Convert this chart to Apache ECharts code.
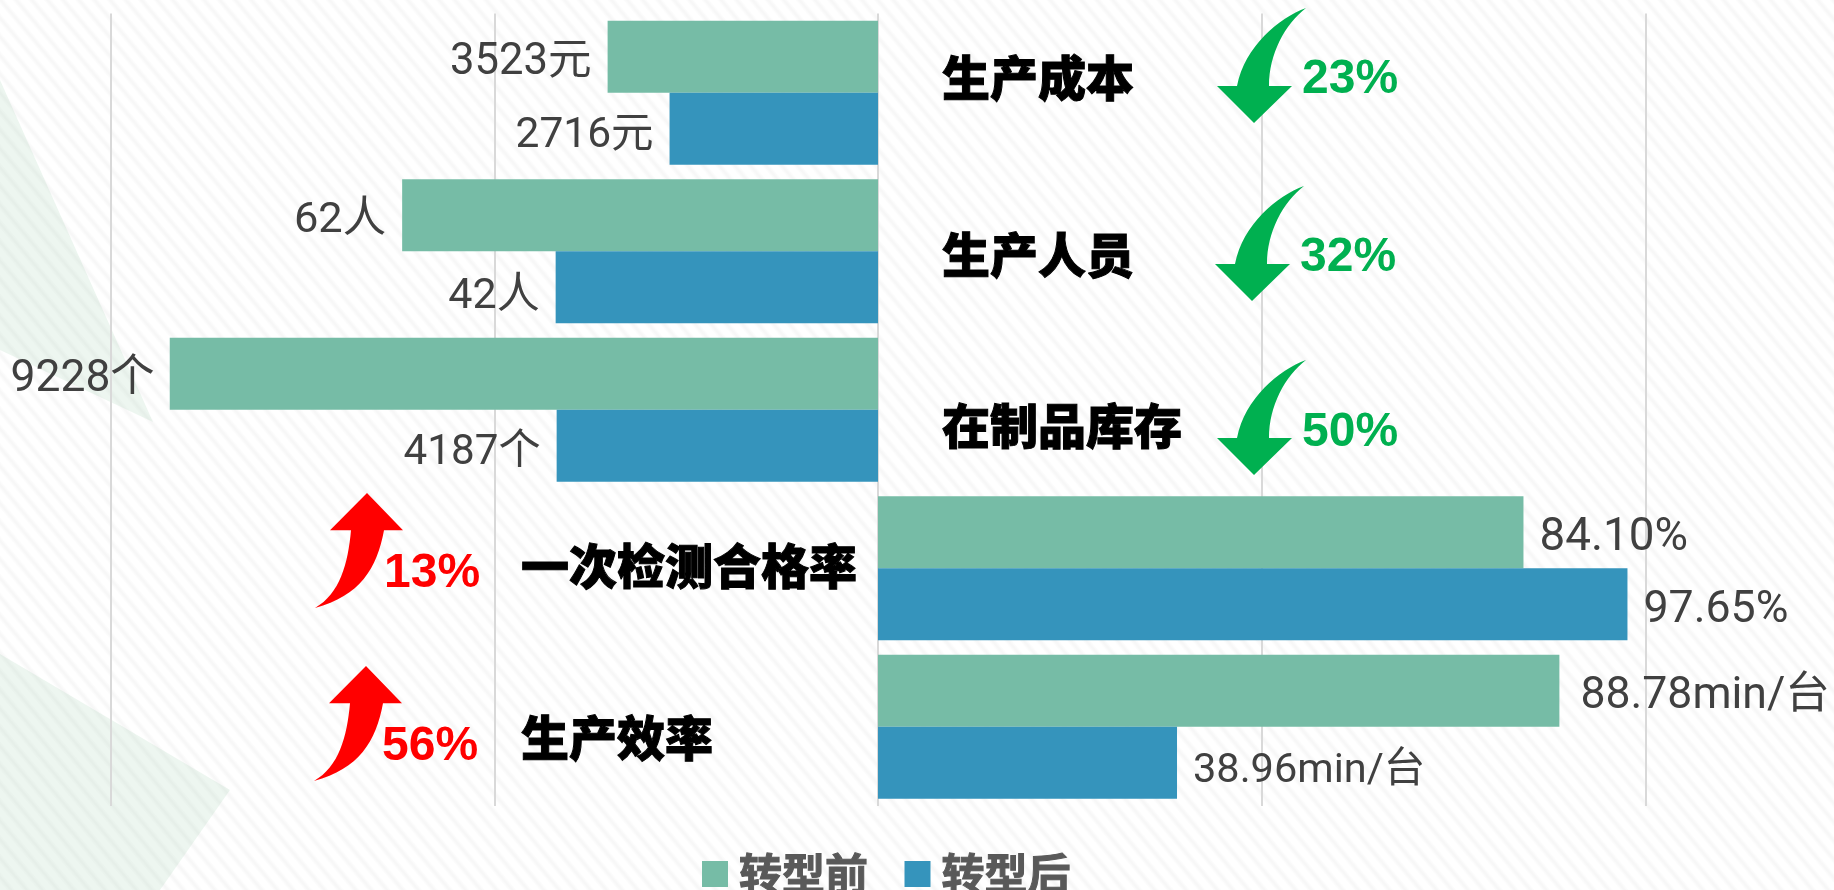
<!DOCTYPE html>
<html>

<head>
    <meta charset="utf-8">
    <title>ECharts</title>
    <script src="https://cdn.jsdelivr.net/npm/echarts@6/dist/echarts.min.js"></script>
    <style>
        html, body { margin: 0; padding: 0; height: 100%; overflow: hidden; }
        body {
            background: repeating-linear-gradient(50deg, #ffffff 0px, #ffffff 5px, #f7f7f7 8px, #f7f7f7 9px, #ffffff 12px);
        }
        #main { width: 1834px; height: 890px; }
    </style>
</head>

<body>
    <div id="main"></div>
</body>
<script type="text/javascript">
    var categories = ['生产成本', '生产人员', '在制品库存', '一次检测合格率', '生产效率'];
    var seriesNames = ['转型前', '转型后'];
    // 条长按标签数字折算成同一刻度
    var beforeValues = [-35.23, -62, -92.28, 84.10, 88.78];
    var afterValues = [-27.16, -42, -41.87, 97.65, 38.96];
    var beforeLabels = ['3523元', '62人', '9228个', '84.10%', '88.78min/台'];
    var afterLabels = ['2716元', '42人', '4187个', '97.65%', '38.96min/台'];
    var changes = ['23%', '32%', '50%', '13%', '56%'];

    // 原图每个标签字号略有不同
    var beforeSizes = [43.6, 43.4, 44.4, 45.8, 44.6];
    var afterSizes = [42.5, 43, 42.2, 44.7, 41.5];
    // 标签相对默认位置的偏移
    var beforeShiftX = [0, 0, 1, 0, 5];
    var afterShiftY = [8, 10, 8, 7, 9];

    var labelFont = 'Roboto, "Noto Sans CJK SC", sans-serif';
    var titleFont = '"Noto Sans CJK SC", sans-serif';
    var pctFont = '"Liberation Sans", Arial, sans-serif';

    var downArrow = 'M89 0C62 10 28 38 20 78L0 78L37 115L75 78L52 78C52 46 68 16 89 0Z';
    var upArrow = 'M52 0L88 37L69 37C62 75 45 102 0 114C25 100 33 70 36 37L15 37Z';

    // 叠加在图上的说明文字和箭头: 文字x,y 箭头x,y
    var notes = [
        { tx: 942, ty: 78, px: 1302, py: 80, ax: 1217, ay: 8 },
        { tx: 942, ty: 255, px: 1300, py: 258, ax: 1215, ay: 186 },
        { tx: 942, ty: 426, px: 1302, py: 433, ax: 1217, ay: 360 },
        { tx: 521, ty: 566, px: 384, py: 574, ax: 315, ay: 493 },
        { tx: 521, ty: 738, px: 382, py: 747, ax: 314, ay: 666 }
    ];

    var graphic = [
        { type: 'polygon', z: -1, silent: true, shape: { points: [[0, 80], [153, 422], [0, 350]] }, style: { fill: 'rgba(172,216,188,0.22)' } },
        { type: 'polygon', z: -1, silent: true, shape: { points: [[0, 654], [230, 790], [160, 890], [0, 890]] }, style: { fill: 'rgba(172,216,188,0.22)' } }
    ];
    notes.forEach(function (n, i) {
        graphic.push({
            type: 'text', z: 10, x: n.tx, y: n.ty,
            style: { text: categories[i], fill: '#000', stroke: '#000', lineWidth: 1, font: '900 48px ' + titleFont, textVerticalAlign: 'middle' }
        });
        graphic.push({
            type: 'text', z: 10, x: n.px, y: n.py,
            style: { text: changes[i], fill: i < 3 ? '#00B050' : '#FF0000', font: 'bold 48px ' + pctFont, textVerticalAlign: 'middle' }
        });
    });

    function barLabel(names) {
        return {
            show: true,
            position: 'outside',
            distance: 16,
            color: '#404040',
            fontFamily: labelFont,
            fontSize: 44,
            formatter: function (p) { return names[p.dataIndex]; }
        };
    }

    var myChart = echarts.init(document.getElementById('main'));
    myChart.setOption({
        animation: false,
        backgroundColor: 'transparent',
        grid: { left: 110.5, right: 188.5, top: 13.5, bottom: 84, containLabel: false },
        legend: {
            left: 697,
            top: 847,
            icon: 'rect',
            itemWidth: 26,
            itemHeight: 26,
            itemGap: 36,
            textStyle: {
                fontFamily: titleFont, fontWeight: 'bold', fontSize: 43, color: '#595959',
                textBorderColor: '#595959', textBorderWidth: 1, padding: [0, 0, 0, 6]
            },
            data: seriesNames
        },
        xAxis: {
            type: 'value',
            min: -100,
            max: 100,
            interval: 50,
            axisLabel: { show: false },
            axisTick: { show: false },
            axisLine: { show: false },
            splitLine: { lineStyle: { color: '#D9D9D9', width: 2 } }
        },
        yAxis: {
            type: 'category',
            inverse: true,
            data: categories,
            axisLabel: { show: false },
            axisTick: { show: false },
            axisLine: { show: false }
        },
        series: [{
            name: seriesNames[0],
            type: 'bar',
            barWidth: 72,
            barGap: 0,
            itemStyle: { color: '#76BCA6' },
            label: barLabel(beforeLabels),
            data: beforeValues.map(function (v, i) {
                return { value: v, label: { fontSize: beforeSizes[i], offset: [beforeShiftX[i], 6] } };
            })
        }, {
            name: seriesNames[1],
            type: 'bar',
            barWidth: 72,
            barGap: 0,
            itemStyle: { color: '#3594BC' },
            label: barLabel(afterLabels),
            data: afterValues.map(function (v, i) {
                return { value: v, label: { fontSize: afterSizes[i], offset: [0, afterShiftY[i]] } };
            })
        }, {
            // 箭头
            type: 'custom',
            coordinateSystem: 'none',
            silent: true,
            z: 10,
            data: notes.map(function (n, i) { return i; }),
            renderItem: function (params) {
                var n = notes[params.dataIndex];
                var down = params.dataIndex < 3;
                return {
                    type: 'path',
                    shape: { pathData: down ? downArrow : upArrow, x: n.ax, y: n.ay, width: down ? 89 : 88, height: 115, layout: 'cover' },
                    style: { fill: down ? '#00B050' : '#FF0000' }
                };
            }
        }],
        graphic: graphic
    });
</script>
</html>
